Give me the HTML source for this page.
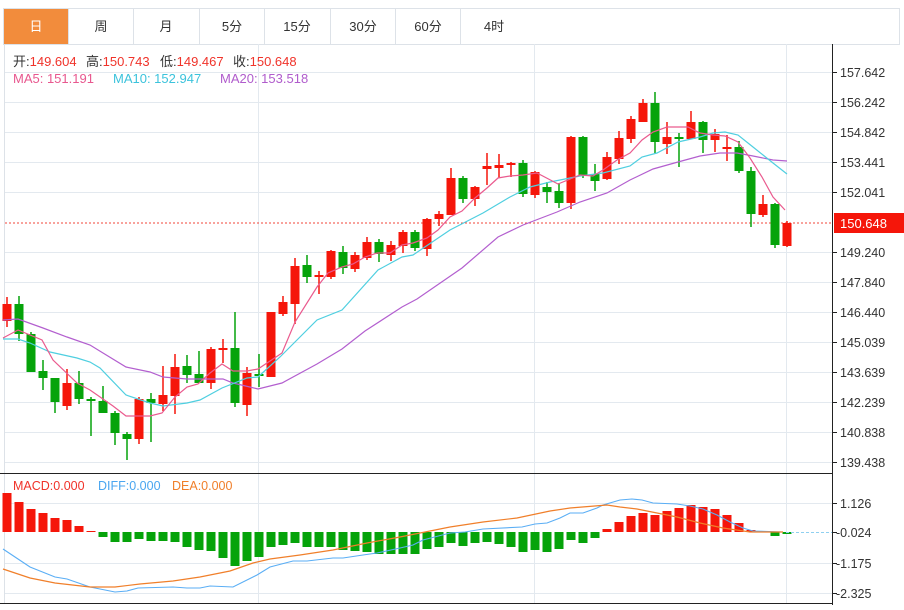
<!DOCTYPE html>
<html><head><meta charset="utf-8"><style>
body{margin:0;background:#fff;width:904px;height:605px;overflow:hidden;font-family:"Liberation Sans","Noto Sans CJK SC",sans-serif}
</style></head><body>
<svg id="svg" width="904" height="605" xmlns="http://www.w3.org/2000/svg" font-family="Liberation Sans, Noto Sans CJK SC, sans-serif">
<rect x="0" y="0" width="904" height="605" fill="#fff"/>
<rect x="3.5" y="8.5" width="896" height="36" fill="#fff" stroke="#dde2e8"/>
<rect x="4" y="9" width="64" height="35" fill="#f28c3c"/>
<g stroke="#dde2e8"><line x1="68.5" y1="9" x2="68.5" y2="44"/><line x1="133.5" y1="9" x2="133.5" y2="44"/><line x1="199.5" y1="9" x2="199.5" y2="44"/><line x1="264.5" y1="9" x2="264.5" y2="44"/><line x1="330.5" y1="9" x2="330.5" y2="44"/><line x1="395.5" y1="9" x2="395.5" y2="44"/><line x1="460.5" y1="9" x2="460.5" y2="44"/></g>
<g font-size="13" text-anchor="middle" fill="#333"><text x="36" y="31" fill="#fff">日</text><text x="101" y="31">周</text><text x="166" y="31">月</text><text x="232" y="31">5分</text><text x="297" y="31">15分</text><text x="363" y="31">30分</text><text x="428" y="31">60分</text><text x="494" y="31">4时</text></g>
<line x1="4.5" y1="44" x2="4.5" y2="603" stroke="#dde2e8"/>
<g stroke="#e3e9ef">
<line x1="5" y1="72.5" x2="832" y2="72.5"/><line x1="5" y1="102.5" x2="832" y2="102.5"/><line x1="5" y1="132.5" x2="832" y2="132.5"/><line x1="5" y1="162.5" x2="832" y2="162.5"/><line x1="5" y1="192.5" x2="832" y2="192.5"/><line x1="5" y1="252.5" x2="832" y2="252.5"/><line x1="5" y1="282.5" x2="832" y2="282.5"/><line x1="5" y1="312.5" x2="832" y2="312.5"/><line x1="5" y1="342.5" x2="832" y2="342.5"/><line x1="5" y1="372.5" x2="832" y2="372.5"/><line x1="5" y1="402.5" x2="832" y2="402.5"/><line x1="5" y1="432.5" x2="832" y2="432.5"/><line x1="5" y1="462.5" x2="832" y2="462.5"/>
<line x1="5" y1="503.5" x2="832" y2="503.5"/><line x1="5" y1="563.5" x2="832" y2="563.5"/><line x1="5" y1="593.5" x2="832" y2="593.5"/>
<line x1="258.5" y1="44" x2="258.5" y2="603"/><line x1="534.5" y1="44" x2="534.5" y2="603"/><line x1="786.5" y1="44" x2="786.5" y2="603"/>
</g>
<g font-size="13">
<text x="13" y="66" fill="#333">开:<tspan fill="#f0332a">149.604</tspan></text>
<text x="86" y="66" fill="#333">高:<tspan fill="#f0332a">150.743</tspan></text>
<text x="160" y="66" fill="#333">低:<tspan fill="#f0332a">149.467</tspan></text>
<text x="233" y="66" fill="#333">收:<tspan fill="#f0332a">150.648</tspan></text>
<text x="13" y="83" fill="#e8588f">MA5:  151.191</text><text x="113" y="83" fill="#3cc3dc">MA10:  152.947</text><text x="220" y="83" fill="#b05ccc">MA20:  153.518</text>
<text x="13" y="490" fill="#f0332a" font-size="12.5">MACD:0.000</text><text x="98" y="490" fill="#4aa6f0" font-size="12.5">DIFF:0.000</text><text x="172" y="490" fill="#f07f2a" font-size="12.5">DEA:0.000</text></g>
<line x1="5" y1="223" x2="832" y2="223" stroke="#f0443a" stroke-dasharray="2,2"/>
<g id="c"></g>
<polyline fill="none" stroke="#b35fcf" stroke-width="1.2" points="3,320 18,319 43,328 67,337 90,345 103,353 126,367 150,372 163,377 187,379 223,379 233,383 258,389 282,383 317,364 342,349 365,331 402,307 417,299 462,268 498,237 523,225 557,212 580,202 607,193 630,180 653,169 678,162 700,156 720,153 737,153 753,156 773,160 787,161"/>
<polyline fill="none" stroke="#4fcfe0" stroke-width="1.2" points="3,339 18,339 30,343 50,352 77,358 90,362 100,368 126,395 150,403 163,406 187,403 200,400 222,388 247,378 258,377 280,357 317,320 342,310 378,270 402,257 413,255 450,230 483,213 510,197 530,187 550,182 580,176 603,173 630,166 642,157 657,153 678,142 700,137 713,133 725,132 738,135 753,147 773,163 787,174"/>
<polyline fill="none" stroke="#ea5a8e" stroke-width="1.2" points="3,338 18,330 42,340 53,360 77,383 90,390 113,406 126,416 150,416 162,413 175,397 187,387 198,384 210,373 222,364 233,371 247,371 258,369 282,353 295,322 317,287 328,273 342,267 353,264 365,257 377,253 390,253 402,245 413,243 427,238 438,230 450,217 462,211 475,198 487,188 498,178 510,176 523,175 537,173 558,184 580,175 593,176 603,170 617,160 630,153 642,140 653,132 667,127 688,127 700,133 713,135 725,136 738,142 750,158 762,177 773,197 785,210"/>
<g id="m"></g>
<line x1="786" y1="532.5" x2="832" y2="532.5" stroke="#8fd0f0" stroke-dasharray="3,2"/>
<polyline fill="none" stroke="#5aaef5" stroke-width="1.1" points="3,549 30,567 55,577 67,579 90,587 115,592 127,591 138,588 173,587 187,588 200,588 210,586 233,587 257,575 270,567 293,561 307,561 333,558 343,558 363,555 377,553 400,548 413,545 423,540 450,533 465,532 483,529 522,527 535,524 547,523 560,518 570,513 583,513 597,508 603,505 620,500 632,499 642,500 653,503 677,504 690,506 703,509 717,515 730,522 743,528 753,531 783,532"/>
<polyline fill="none" stroke="#f07f2a" stroke-width="1.2" points="3,569 30,578 55,583 90,587 115,587 140,584 173,581 200,577 230,571 253,563 270,559 300,555 333,550 367,543 400,537 450,527 483,522 517,518 550,511 570,508 607,505 620,507 637,509 657,513 677,517 700,523 723,528 750,532 783,532"/>
<g stroke="#222"><line x1="832.5" y1="44" x2="832.5" y2="605"/><line x1="0" y1="473.5" x2="832" y2="473.5"/><line x1="0" y1="603.5" x2="832" y2="603.5"/></g>
<g stroke="#222"><line x1="832" y1="72.5" x2="837" y2="72.5"/><line x1="832" y1="102.5" x2="837" y2="102.5"/><line x1="832" y1="132.5" x2="837" y2="132.5"/><line x1="832" y1="162.5" x2="837" y2="162.5"/><line x1="832" y1="192.5" x2="837" y2="192.5"/><line x1="832" y1="252.5" x2="837" y2="252.5"/><line x1="832" y1="282.5" x2="837" y2="282.5"/><line x1="832" y1="312.5" x2="837" y2="312.5"/><line x1="832" y1="342.5" x2="837" y2="342.5"/><line x1="832" y1="372.5" x2="837" y2="372.5"/><line x1="832" y1="402.5" x2="837" y2="402.5"/><line x1="832" y1="432.5" x2="837" y2="432.5"/><line x1="832" y1="462.5" x2="837" y2="462.5"/><line x1="832" y1="503.5" x2="837" y2="503.5"/><line x1="832" y1="532.5" x2="837" y2="532.5"/><line x1="832" y1="563.5" x2="837" y2="563.5"/><line x1="832" y1="593.5" x2="837" y2="593.5"/></g>
<g font-size="12.5" fill="#333"><text x="840" y="77">157.642</text><text x="840" y="107">156.242</text><text x="840" y="137">154.842</text><text x="840" y="167">153.441</text><text x="840" y="197">152.041</text><text x="840" y="257">149.240</text><text x="840" y="287">147.840</text><text x="840" y="317">146.440</text><text x="840" y="347">145.039</text><text x="840" y="377">143.639</text><text x="840" y="407">142.239</text><text x="840" y="437">140.838</text><text x="840" y="467">139.438</text>
<text x="840" y="508">1.126</text><text x="836" y="537">-0.024</text><text x="836" y="568">-1.175</text><text x="836" y="598">-2.325</text></g>
<rect x="834" y="213" width="70" height="20" fill="#f5160a"/>
<text x="840" y="228" font-size="13" fill="#fff">150.648</text>
</svg>
<script>
var C=[[304,321,297,327,1],[304,334,296,341,0],[334,372,332,372,0],[371,378,360,390,0],[378,402,378,413,0],[383,406,369,410,1],[383,399,371,404,0],[399,401,397,436,0],[401,413,386,413,0],[413,433,411,445,0],[434,439,432,460,0],[399,439,397,444,1],[399,403,393,442,0],[395,404,366,411,1],[367,396,354,414,1],[366,375,355,383,0],[374,383,351,383,0],[349,383,347,389,1],[348,350,339,363,1],[348,403,312,407,0],[373,405,367,416,1],[374,376,354,387,0],[312,377,312,377,1],[302,314,296,316,1],[266,304,258,324,1],[265,277,255,283,0],[275,277,271,294,1],[251,277,250,279,1],[252,268,246,274,0],[255,269,252,272,1],[242,258,237,260,1],[242,254,239,262,0],[245,255,241,261,1],[232,246,230,253,1],[232,248,230,251,0],[219,249,218,256,1],[214,219,211,226,1],[178,215,168,215,1],[178,199,176,203,0],[187,199,186,206,1],[166,169,153,185,1],[165,168,154,178,1],[163,165,162,177,1],[163,194,160,197,0],[172,195,171,198,1],[187,192,182,203,0],[191,203,183,208,0],[137,203,136,209,1],[137,175,136,178,0],[174,181,164,191,0],[157,179,152,180,1],[138,159,131,164,1],[119,139,116,143,1],[103,122,99,122,1],[103,142,92,153,0],[137,144,122,154,1],[137,138,133,167,0],[122,139,111,139,1],[122,140,121,153,0],[134,140,129,152,1],[147,149,135,161,1],[147,171,141,173,0],[171,214,167,227,0],[204,215,195,217,1],[204,245,203,248,0],[223,246,221,247,1]];
var M=[493,502,509,513,518,520,526,531,537,542,542,539,541,541,542,547,550,551,558,566,561,557,547,545,543,547,547,547,550,551,552,554,554,554,554,549,547,543,546,543,542,544,547,552,550,552,549,540,543,538,529,522,516,513,515,511,508,505,507,509,515,523,530,531,536,534];
var NS="http://www.w3.org/2000/svg";
function el(p,tag,a){var e=document.createElementNS(NS,tag);for(var k in a)e.setAttribute(k,a[k]);p.appendChild(e);}
var gc=document.getElementById("c"),gm=document.getElementById("m");
C.forEach(function(c,i){var x=7+12*i,col=c[4]?"#f5160a":"#05a30a";var h=Math.max(c[1]-c[0],2);
el(gc,"line",{x1:x,y1:c[2],x2:x,y2:c[3],stroke:col,"stroke-width":1.5});
el(gc,"rect",{x:x-4.5,y:c[0],width:9,height:h,fill:col});});
M.forEach(function(v,i){var x=7+12*i,z=532;var col=v<z?"#f5160a":"#05a30a";var y=Math.min(v,z),h=Math.max(Math.abs(v-z),1);
el(gm,"rect",{x:x-4.5,y:y,width:9,height:h,fill:col});});
</script>
</body></html>
